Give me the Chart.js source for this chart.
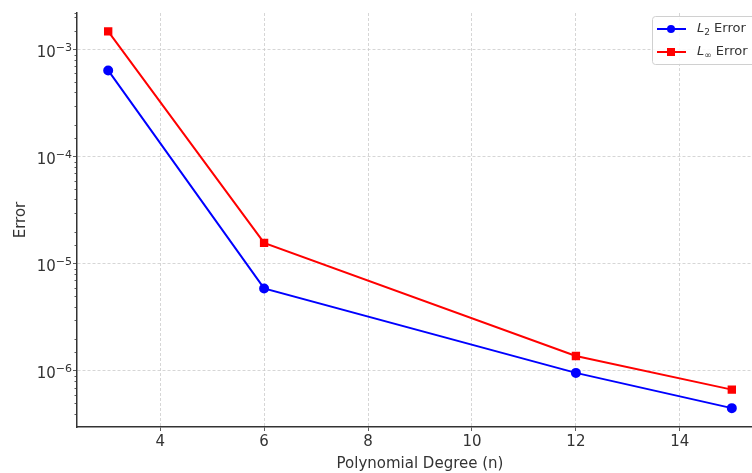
<!DOCTYPE html>
<html>
<head>
<meta charset="utf-8">
<script src="https://cdn.jsdelivr.net/npm/chart.js@4.4.0/dist/chart.umd.min.js"></script>
<style>
  html, body { margin: 0; padding: 0; background: #fff; overflow: hidden; }
  #wrap { width: 770px; height: 473px; }
</style>
</head>
<body>
<div id="wrap"><canvas id="grafico"></canvas></div>
<script>
const grados = [3, 6, 12, 15]
const errorL2 = [6.4e-4, 5.9e-6, 9.6e-7, 4.5e-7]
const errorLinf = [1.48e-3, 1.57e-5, 1.38e-6, 6.7e-7]
const ticksX = [4, 6, 8, 10, 12, 14]
const ticksY = [1e-6, 1e-5, 1e-4, 1e-3]

const esMayor = v => Math.abs(Math.log10(v) - Math.round(Math.log10(v))) < 1e-6

const fuente = "'DejaVu Sans', sans-serif"
const texto = '#333'

// etiquetas 10^n, ticks menores del eje y y leyenda estilo matplotlib
const extras = {
  id: 'extras',
  afterDraw(chart) {
    const ctx = chart.ctx
    const y = chart.scales.y
    const area = chart.chartArea
    ctx.save()
    ctx.strokeStyle = '#333'
    ctx.lineWidth = 0.8
    y.ticks.forEach(t => {
      if (esMayor(t.value)) return
      const py = Math.round(y.getPixelForValue(t.value)) + 0.5
      if (py < area.top || py > area.bottom) return
      ctx.beginPath()
      ctx.moveTo(area.left - 2.5, py)
      ctx.lineTo(area.left, py)
      ctx.stroke()
    })
    // etiquetas del eje y con exponente
    ctx.fillStyle = texto
    ctx.textBaseline = 'alphabetic'
    ctx.textAlign = 'right'
    ticksY.forEach(v => {
      const py = y.getPixelForValue(v)
      const exp = '−' + Math.abs(Math.round(Math.log10(v)))
      ctx.font = "11px " + fuente
      const wE = ctx.measureText(exp).width
      ctx.fillText(exp, area.left - 5, py + 1)
      ctx.font = "15px " + fuente
      ctx.fillText('10', area.left - 5 - wE, py + 7)
    })
    ctx.textAlign = 'left'
    // leyenda
    const bx = 652, by = 16, bw = 110, bh = 48
    ctx.fillStyle = 'rgba(255,255,255,0.85)'
    ctx.strokeStyle = '#d0d0d0'
    ctx.lineWidth = 1
    ctx.beginPath()
    ctx.roundRect(bx + 0.5, by + 0.5, bw, bh, 3)
    ctx.fill()
    ctx.stroke()
    const items = [
      { color: '#0000ff', sub: '2', forma: 'circulo', y: by + 13 },
      { color: '#ff0000', sub: '∞', forma: 'cuadrado', y: by + 36 }
    ]
    items.forEach(it => {
      ctx.strokeStyle = it.color
      ctx.fillStyle = it.color
      ctx.lineWidth = 2
      ctx.beginPath()
      ctx.moveTo(bx + 5, it.y)
      ctx.lineTo(bx + 34, it.y)
      ctx.stroke()
      if (it.forma === 'circulo') {
        ctx.beginPath()
        ctx.arc(bx + 19, it.y, 4, 0, Math.PI * 2)
        ctx.fill()
      } else {
        ctx.fillRect(bx + 15, it.y - 4, 8, 8)
      }
      ctx.fillStyle = texto
      ctx.textBaseline = 'middle'
      ctx.font = "italic 13px " + fuente
      ctx.fillText('L', bx + 45, it.y)
      const wL = ctx.measureText('L').width
      ctx.font = "9px " + fuente
      ctx.fillText(it.sub, bx + 45 + wL, it.y + 4)
      const wS = ctx.measureText(it.sub).width
      ctx.font = "13px " + fuente
      ctx.fillText(' Error', bx + 45 + wL + wS, it.y)
    })
    ctx.restore()
  }
}

const ctx = document.getElementById('grafico').getContext('2d')
const myChart = new Chart(ctx, {
  type: 'line',
  data: {
    datasets: [{
      label: 'L2 Error',
      data: grados.map((g, i) => ({ x: g, y: errorL2[i] })),
      borderColor: '#0000ff',
      backgroundColor: '#0000ff',
      borderWidth: 2,
      pointStyle: 'circle',
      pointRadius: 4,
      tension: 0
    }, {
      label: 'L∞ Error',
      data: grados.map((g, i) => ({ x: g, y: errorLinf[i] })),
      borderColor: '#ff0000',
      backgroundColor: '#ff0000',
      borderWidth: 2,
      pointStyle: 'rect',
      pointRadius: 4.5,
      tension: 0
    }]
  },
  options: {
    responsive: true,
    maintainAspectRatio: false,
    animation: false,
    layout: { padding: { top: 10, right: 7, left: 0, bottom: 0 } },
    plugins: {
      legend: { display: false },
      tooltip: { enabled: false }
    },
    scales: {
      x: {
        type: 'linear',
        min: 2.4,
        max: 15.6,
        afterBuildTicks: s => { s.ticks = ticksX.map(v => ({ value: v })) },
        afterFit: s => { s.height = 46 },
        ticks: { color: texto, font: { family: fuente, size: 15 }, padding: 2, maxRotation: 0 },
        grid: { color: '#cccccc', lineWidth: 0.8, tickColor: '#333', tickLength: 4 },
        border: { color: '#333', width: 1.5, dash: [3, 2] },
        title: { display: true, text: 'Polynomial Degree (n)', color: texto, font: { family: fuente, size: 15 }, padding: { top: 3, bottom: 0 } }
      },
      y: {
        type: 'logarithmic',
        min: 3.0e-7,
        max: 2.2e-3,
        afterFit: s => { s.width = 77 },
        ticks: {
          color: texto,
          font: { family: fuente, size: 15 },
          padding: 4,
          autoSkip: false,
          callback: () => ''
        },
        grid: {
          color: c => c.tick && esMayor(c.tick.value) ? '#cccccc' : 'rgba(0,0,0,0)',
          tickColor: c => c.tick && esMayor(c.tick.value) ? '#333' : 'rgba(0,0,0,0)',
          lineWidth: 0.8,
          tickLength: 4
        },
        border: { color: '#333', width: 1.5, dash: [3, 2] },
        title: { display: true, text: 'Error', color: texto, font: { family: fuente, size: 15 }, padding: { top: 12, bottom: 0 } }
      }
    }
  },
  plugins: [extras]
})
</script>
</body>
</html>
